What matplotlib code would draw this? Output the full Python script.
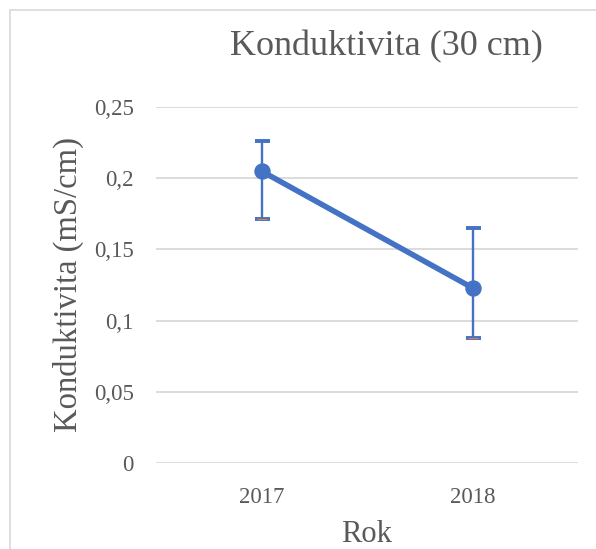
import matplotlib
matplotlib.use("Agg")
import matplotlib.pyplot as plt
from matplotlib.patches import Rectangle

# Mean conductivity at 30 cm depth per year, with error bar limits
years = ["2017", "2018"]
means = [0.205, 0.123]
upper = [0.226, 0.165]
lower = [0.171, 0.088]
y_ticks = [0, 0.05, 0.10, 0.15, 0.20, 0.25]
y_tick_labels = ["0", "0,05", "0,1", "0,15", "0,2", "0,25"]

blue = "#4472C4"
orange = "#ED7D31"
text_gray = "#595959"
grid_gray = "#D9D9D9"

plt.rcParams["font.family"] = ["Liberation Serif", "DejaVu Serif"]

W, H = 596, 549
fig = plt.figure(figsize=(W / 100, H / 100), dpi=100)
ax = fig.add_axes([156 / W, (H - 463) / H, (578 - 156) / W, (463 - 107) / H])

x = list(range(len(years)))
err_lo = [m - lo for m, lo in zip(means, lower)]
err_hi = [hi - m for m, hi in zip(means, upper)]

# Error bars (drawn beneath the series line)
ax.errorbar(x, means, yerr=[err_lo, err_hi], fmt="none", ecolor=blue,
            elinewidth=1.7, capsize=5.4, capthick=2.8, zorder=3)
# Thin orange stroke inside the lower caps
ax.errorbar(x, means, yerr=[err_lo, [0, 0]], fmt="none", ecolor=orange,
            elinewidth=0, capsize=3.6, capthick=0.8, zorder=4)
ax.plot(x, means, color=blue, linewidth=4.0, marker="o", markersize=10.8,
        solid_capstyle="round", zorder=5)

ax.set_xlim(-0.5, len(years) - 0.5)
ax.set_ylim(0, 0.25)
ax.set_xticks(x)
ax.set_xticklabels(years)
ax.set_yticks(y_ticks)
ax.set_yticklabels(y_tick_labels)
ax.tick_params(axis="both", length=0, labelsize=16.5, labelcolor=text_gray)
ax.tick_params(axis="y", pad=16)
ax.tick_params(axis="x", pad=17)

ax.grid(axis="y", color=grid_gray, linewidth=1.3)
ax.set_axisbelow(True)
for s in ax.spines.values():
    s.set_visible(False)

ax.set_ylabel("Konduktivita (mS/cm)", fontsize=23.5, color=text_gray, labelpad=7)
ax.set_xlabel("Rok", fontsize=22, color=text_gray, labelpad=9)

fig.text(386 / W, 1 - 47 / H, "Konduktivita (30 cm)", fontsize=26,
         color=text_gray, ha="center", va="center")

# Chart area border (right and bottom edges run past the canvas)
fig.patches.append(Rectangle((9.5 / W, -0.1), 2, 1.1 - 10.5 / H,
                             transform=fig.transFigure, fill=False,
                             edgecolor=grid_gray, linewidth=1.2))

fig.savefig("out.png", dpi=100, facecolor="white")
